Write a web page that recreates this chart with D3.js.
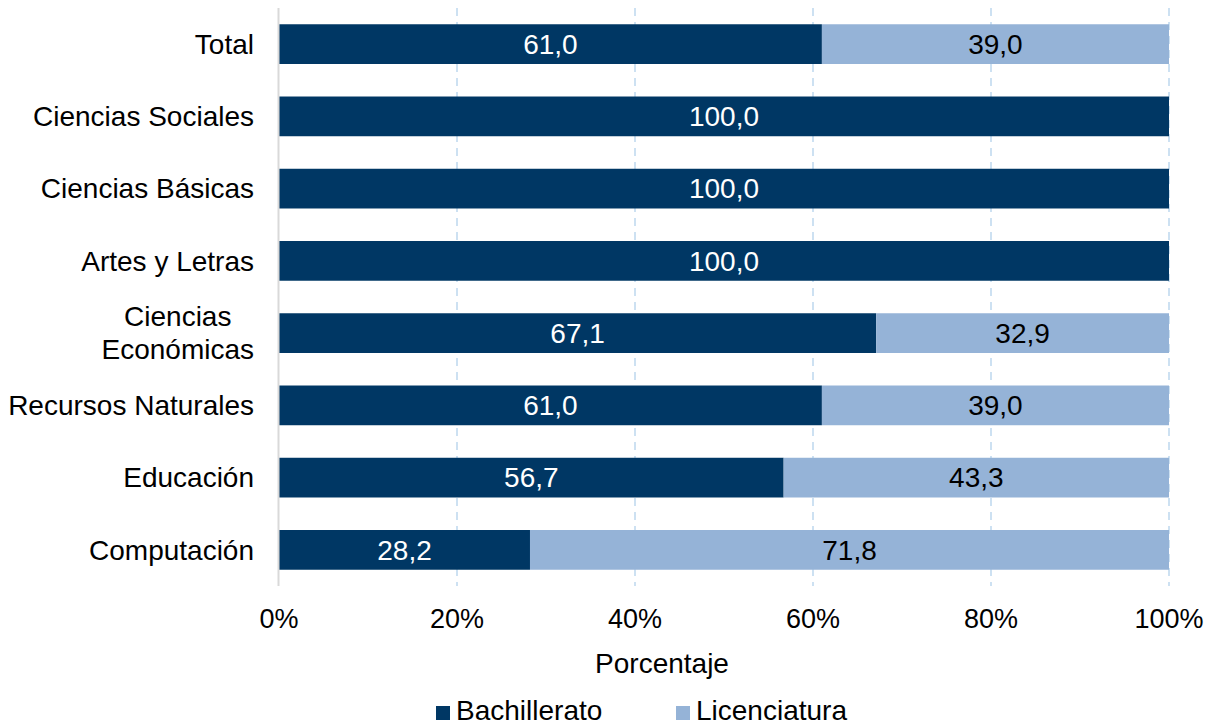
<!DOCTYPE html>
<html><head><meta charset="utf-8">
<script src="https://cdn.jsdelivr.net/npm/d3@7"></script>
<style>body{margin:0;background:#fff;} text{font-family:"Liberation Sans",Arial,sans-serif;}</style>
</head><body>
<svg id="c" width="1217" height="727"></svg>
<script>
const categories = ["Total","Ciencias Sociales","Ciencias Básicas","Artes y Letras","Ciencias\nEconómicas","Recursos Naturales","Educación","Computación"];
const bachillerato = [61.0,100.0,100.0,100.0,67.1,61.0,56.7,28.2];
const licenciatura = [39.0,0,0,0,32.9,39.0,43.3,71.8];
const seriesNames = ["Bachillerato","Licenciatura"];
const colors = ["#003764","#95b3d7"];
const xTicks = [0,20,40,60,80,100];

const svg = d3.select("#c");
const m = {left:279, right:48, top:8, bottom:141};
const W = 1217, H = 727;
const FS = 28;
const x = d3.scaleLinear().domain([0,100]).range([m.left, W-m.right]);
const y = d3.scaleBand().domain(categories).range([m.top, H-m.bottom]).paddingInner(0.45).paddingOuter(0.225);

// gridlines
svg.append("g").selectAll("line").data(xTicks.filter(d=>d>0)).join("line")
  .attr("x1",d=>x(d)).attr("x2",d=>x(d)).attr("y1",m.top).attr("y2",H-m.bottom)
  .attr("stroke","#bdd7ee").attr("stroke-width",1.5).attr("stroke-dasharray","8,6");

const stack = categories.map((c,i)=>({c, vals:[bachillerato[i], licenciatura[i]]}));
const fmt = v => v.toFixed(1).replace(".",",");
stack.forEach(d=>{
  let acc=0;
  d.vals.forEach((v,j)=>{
    if(v>0){
      svg.append("rect").attr("x",x(acc)).attr("width",x(acc+v)-x(acc))
        .attr("y",y(d.c)).attr("height",y.bandwidth()).attr("fill",colors[j]);
      svg.append("text").attr("x",x(acc+v/2)).attr("y",y(d.c)+y.bandwidth()/2)
        .attr("dy","0.35em").attr("text-anchor","middle").attr("font-size",FS)
        .attr("fill", j===0?"#ffffff":"#000000").text(fmt(v));
    }
    acc+=v;
  });
});

// y axis line
svg.append("line").attr("x1",m.left-0.5).attr("x2",m.left-0.5).attr("y1",m.top).attr("y2",H-m.bottom)
  .attr("stroke","#d9d9d9").attr("stroke-width",2);

// category labels
categories.forEach(c=>{
  const lines = c.split("\n");
  const cy = y(c)+y.bandwidth()/2;
  const g = svg.append("g");
  if(lines.length===1){
    g.append("text").attr("x",254).attr("y",cy).attr("dy","0.35em").attr("text-anchor","end")
      .attr("font-size",FS).text(c);
  } else {
    const t = g.append("text").attr("font-size",FS).attr("text-anchor","middle");
    const tmp = svg.append("text").attr("font-size",FS);
    const wmax = d3.max(lines, l=>{tmp.text(l); return tmp.node().getComputedTextLength();});
    tmp.remove();
    const lh = 33;
    lines.forEach((l,k)=>{
      t.append("tspan").attr("x",254-wmax/2).attr("y",cy+(k-(lines.length-1)/2)*lh).attr("dy","0.35em").text(l);
    });
  }
});

// x tick labels
svg.append("g").selectAll("text").data(xTicks).join("text")
  .attr("x",d=>x(d)).attr("y",628).attr("text-anchor","middle")
  .attr("font-size",27).text(d=>d+"%");

svg.append("text").attr("x",662).attr("y",673)
  .attr("text-anchor","middle").attr("font-size",FS).text("Porcentaje");

// legend
const lx = [436,676];
seriesNames.forEach((s,i)=>{
  svg.append("rect").attr("x",lx[i]).attr("y",706).attr("width",14).attr("height",14).attr("fill",colors[i]);
  svg.append("text").attr("x",lx[i]+20).attr("y",720).attr("font-size",FS).text(s);
});
</script>
</body></html>
